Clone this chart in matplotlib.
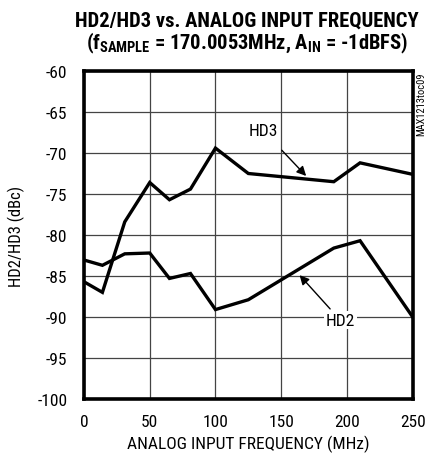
import matplotlib
matplotlib.use('Agg')
import matplotlib.pyplot as plt

# frequencies (MHz) and distortion levels (dBc)
freq = [1, 14, 31, 50, 65, 81, 100, 125, 190, 210, 250]
hd3 = [-85.8, -87.0, -78.4, -73.6, -75.7, -74.4, -69.4, -72.5, -73.5, -71.2, -72.6]
hd2 = [-83.1, -83.7, -82.3, -82.2, -85.3, -84.7, -89.1, -87.9, -81.6, -80.7, -90.0]

xticks = [0, 50, 100, 150, 200, 250]
yticks = [-100, -95, -90, -85, -80, -75, -70, -65, -60]

fnt = ['Roboto Condensed', 'DejaVu Sans']
plt.rcParams['font.family'] = fnt
plt.rcParams['mathtext.fontset'] = 'custom'
plt.rcParams['mathtext.bf'] = 'Roboto Condensed:bold'
plt.rcParams['mathtext.rm'] = 'Roboto Condensed'

fig = plt.figure(figsize=(4.33, 4.56), dpi=100)
ax = fig.add_axes([0.194, 0.123, 0.759, 0.719])

ax.plot(freq, hd3, color='black', lw=2.4, solid_joinstyle='miter')
ax.plot(freq, hd2, color='black', lw=2.4, solid_joinstyle='miter')

ax.set_xlim(0, 250)
ax.set_ylim(-100, -60)
ax.set_xticks(xticks)
ax.set_yticks(yticks)
ax.set_xticklabels([str(v) for v in xticks], fontsize=12.5)
ax.set_yticklabels([str(v) for v in yticks], fontsize=12.5)
ax.tick_params(axis='x', length=0, pad=11)
ax.tick_params(axis='y', length=0, pad=12)
ax.grid(True, color='#444444', lw=0.9)
ax.set_axisbelow(True)
for s in ax.spines.values():
    s.set_linewidth(2.6)

ax.set_xlabel('ANALOG INPUT FREQUENCY (MHz)', fontsize=12.5, labelpad=4)
ax.set_ylabel('HD2/HD3 (dBc)', fontsize=12, labelpad=9)

fig.text(0.571, 0.9414, 'HD2/HD3 vs. ANALOG INPUT FREQUENCY', ha='center', va='baseline',
         fontsize=14.8, fontweight='bold')
fig.text(0.571, 0.8925, r'(f$_{\mathbf{SAMPLE}}$ = 170.0053MHz, A$_{\mathbf{IN}}$ = -1dBFS)',
         ha='center', va='baseline', fontsize=14.8, fontweight='bold')
fig.text(0.972, 0.84, 'MAX1213toc09', rotation=90, ha='center', va='top', fontsize=7.5)

ax.annotate('HD3', xy=(169, -72.8), xytext=(136.5, -67.3), fontsize=12.5,
            ha='center', va='center',
            arrowprops=dict(arrowstyle='-|>', color='black', lw=1.0, mutation_scale=14,
                            shrinkA=9, shrinkB=0))
ax.annotate('HD2', xy=(164, -84.9), xytext=(195, -90.4), fontsize=12.5,
            ha='center', va='center',
            bbox=dict(boxstyle='square,pad=0.1', fc='white', ec='none'),
            arrowprops=dict(arrowstyle='-|>', color='black', lw=1.0, mutation_scale=14,
                            shrinkA=2, shrinkB=0))

fig.savefig('out.png', dpi=100)
